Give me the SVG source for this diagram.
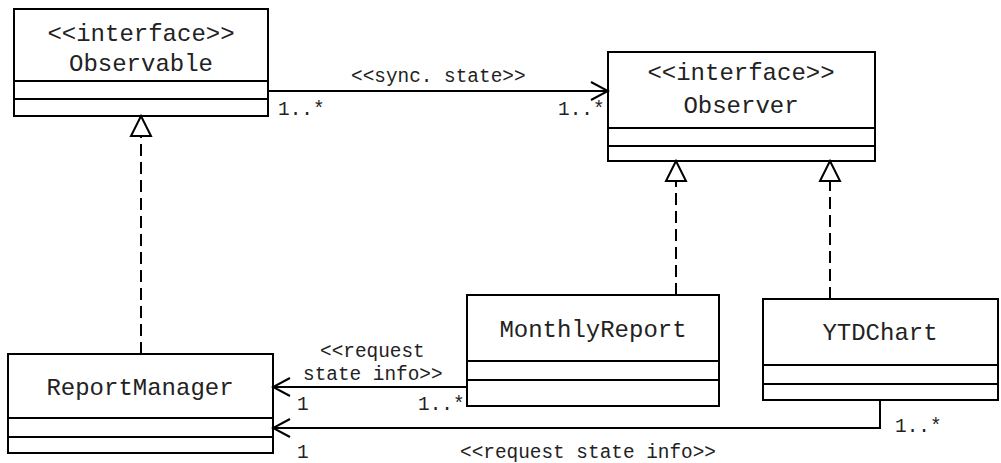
<svg xmlns="http://www.w3.org/2000/svg" width="1001" height="463" viewBox="0 0 1001 463">
<style>
.box{fill:#fff;stroke:#000;stroke-width:2}
.div{stroke:#000;stroke-width:2}
.name{font-family:"Liberation Mono","Courier New",monospace;font-size:24px;fill:#222;text-anchor:middle}
.lbl{font-family:"Liberation Mono","Courier New",monospace;font-size:19.4px;fill:#222}
.line{fill:none;stroke:#000;stroke-width:2}
.dash{fill:none;stroke:#000;stroke-width:2;stroke-dasharray:12,6}
.tri{fill:#fff;stroke:#000;stroke-width:2}
</style>
<defs>
<marker id="open" viewBox="0 0 20 20" refX="18" refY="10" markerWidth="20" markerHeight="20" markerUnits="userSpaceOnUse" orient="auto">
<path d="M1,1 L18,10 L1,19" fill="none" stroke="#000" stroke-width="2"/>
</marker>
</defs>
<g id="Observable">
<rect class="box" x="14" y="9" width="254" height="107"/>
<line class="div" x1="14" y1="81" x2="268" y2="81"/>
<line class="div" x1="14" y1="99" x2="268" y2="99"/>
<text class="name" x="141" y="41">&lt;&lt;interface&gt;&gt;</text>
<text class="name" x="141" y="71">Observable</text>
</g>
<g id="Observer">
<rect class="box" x="608" y="52" width="267" height="109"/>
<line class="div" x1="608" y1="128" x2="875" y2="128"/>
<line class="div" x1="608" y1="146" x2="875" y2="146"/>
<text class="name" x="741" y="80">&lt;&lt;interface&gt;&gt;</text>
<text class="name" x="741" y="113">Observer</text>
</g>
<g id="ReportManager">
<rect class="box" x="8" y="354" width="265" height="99"/>
<line class="div" x1="8" y1="418" x2="273" y2="418"/>
<line class="div" x1="8" y1="437" x2="273" y2="437"/>
<text class="name" x="140" y="395">ReportManager</text>
</g>
<g id="MonthlyReport">
<rect class="box" x="467" y="295" width="252" height="111"/>
<line class="div" x1="467" y1="361" x2="719" y2="361"/>
<line class="div" x1="467" y1="380" x2="719" y2="380"/>
<text class="name" x="593" y="337">MonthlyReport</text>
</g>
<g id="YTDChart">
<rect class="box" x="763" y="299" width="235" height="101"/>
<line class="div" x1="763" y1="365" x2="998" y2="365"/>
<line class="div" x1="763" y1="384" x2="998" y2="384"/>
<text class="name" x="880" y="340">YTDChart</text>
</g>
<g id="connectors">
<!-- realization: ReportManager -> Observable -->
<line class="dash" x1="141" y1="354" x2="141" y2="136"/>
<polygon class="tri" points="141,116 131,136 151,136"/>
<!-- realization: MonthlyReport -> Observer -->
<line class="dash" x1="676" y1="295" x2="676" y2="181"/>
<polygon class="tri" points="676,161 666,181 686,181"/>
<!-- realization: YTDChart -> Observer -->
<line class="dash" x1="830" y1="299" x2="830" y2="181"/>
<polygon class="tri" points="830,161 820,181 840,181"/>
<!-- sync state -->
<line class="line" x1="268" y1="91" x2="608" y2="91" marker-end="url(#open)"/>
<text class="lbl" x="351" y="82">&lt;&lt;sync. state&gt;&gt;</text>
<text class="lbl" x="278" y="115">1..*</text>
<text class="lbl" x="558" y="115">1..*</text>
<!-- MonthlyReport -> ReportManager -->
<line class="line" x1="467" y1="387" x2="273" y2="387" marker-end="url(#open)"/>
<text class="lbl" x="320" y="357">&lt;&lt;request</text>
<text class="lbl" x="303" y="380">state info&gt;&gt;</text>
<text class="lbl" x="297" y="410">1</text>
<text class="lbl" x="418" y="410">1..*</text>
<!-- YTDChart -> ReportManager -->
<polyline class="line" points="880,400 880,428 273,428" marker-end="url(#open)"/>
<text class="lbl" x="895" y="432">1..*</text>
<text class="lbl" x="297" y="458">1</text>
<text class="lbl" x="460" y="458">&lt;&lt;request state info&gt;&gt;</text>
</g>
</svg>
